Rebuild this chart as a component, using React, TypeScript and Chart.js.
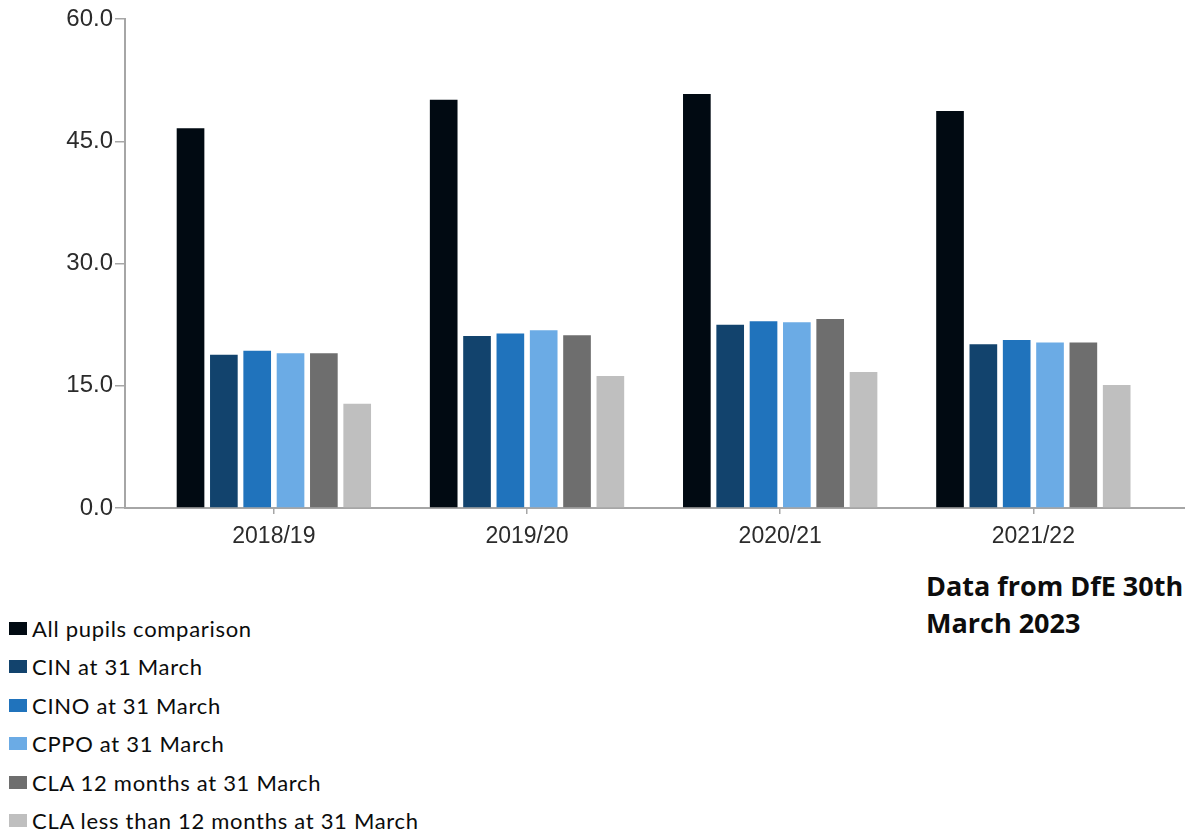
import React, { useEffect, useRef } from "react";
import { Chart, registerables } from "chart.js";

Chart.register(...registerables);

const categories = ["2018/19", "2019/20", "2020/21", "2021/22"];
const seriesNames = [
  "All pupils comparison",
  "CIN at 31 March",
  "CINO at 31 March",
  "CPPO at 31 March",
  "CLA 12 months at 31 March",
  "CLA less than 12 months at 31 March",
];
const allPupils = [46.6, 50.1, 50.8, 48.7];
const cin = [18.8, 21.1, 22.5, 20.1];
const cino = [19.3, 21.4, 22.9, 20.6];
const cppo = [19.0, 21.8, 22.8, 20.3];
const cla12 = [19.0, 21.2, 23.2, 20.3];
const claLess12 = [12.8, 16.2, 16.7, 15.1];
const seriesValues = [allPupils, cin, cino, cppo, cla12, claLess12];
const seriesColors = ["#010a12", "#12436d", "#2073bc", "#6babe5", "#6e6e6e", "#bfbfbf"];
const yTicks = [0, 15, 30, 45, 60];
const noteLines = ["Data from DfE 30th", "March 2023"];

export default function App() {
  const canvasRef = useRef<HTMLCanvasElement | null>(null);

  useEffect(() => {
    if (!canvasRef.current) return;
    const axisColor = "#a6a6a6";
    const chart = new Chart(canvasRef.current, {
      type: "bar",
      data: {
        datasets: seriesNames.map((name, s) => ({
          label: name,
          data: seriesValues[s].map((y, i) => ({ x: i, y })),
          backgroundColor: seriesColors[s],
          borderWidth: 0,
          barPercentage: 0.83,
          categoryPercentage: 0.79,
        })),
      },
      options: {
        animation: false,
        responsive: false,
        maintainAspectRatio: false,
        layout: { padding: { top: 19, left: 0, right: 0, bottom: 0 } },
        plugins: {
          legend: { display: false },
          tooltip: { enabled: false },
        },
        scales: {
          x: {
            type: "linear",
            min: -0.588,
            max: 3.599,
            offset: false,
            afterBuildTicks: (scale: any) => {
              scale.ticks = categories.map((_, i) => ({ value: i }));
            },
            afterFit: (scale: any) => {
              scale.height = 52;
            },
            ticks: {
              autoSkip: false,
              maxRotation: 0,
              padding: 9,
              color: "#2b2b2b",
              font: { family: "Liberation Sans", size: 23 },
              callback: (_v: any, index: number) => categories[index],
            },
            grid: {
              offset: false,
              drawOnChartArea: false,
              drawTicks: true,
              tickLength: 6,
              color: axisColor,
              lineWidth: 1.5,
            },
            border: { display: true, color: axisColor, width: 2 },
          },
          y: {
            type: "linear",
            min: 0,
            max: 60,
            afterBuildTicks: (scale: any) => {
              scale.ticks = yTicks.map((v) => ({ value: v }));
            },
            afterFit: (scale: any) => {
              scale.width = 125;
            },
            ticks: {
              padding: 2,
              color: "#2b2b2b",
              font: { family: "Liberation Sans", size: 24 },
              callback: (v: any) => Number(v).toFixed(1),
            },
            grid: {
              drawOnChartArea: false,
              drawTicks: true,
              tickLength: 10,
              color: axisColor,
              lineWidth: 1.5,
            },
            border: { display: true, color: axisColor, width: 2 },
          },
        },
      },
    });
    return () => chart.destroy();
  }, []);

  return (
    <div
      style={{
        position: "fixed",
        left: 0,
        top: 0,
        width: 1185,
        height: 833,
        overflow: "hidden",
        background: "#ffffff",
      }}
    >
      <canvas
        ref={canvasRef}
        width={1185}
        height={560}
        style={{ position: "absolute", left: 0, top: 0, width: 1185, height: 560 }}
      />
      <div style={{ position: "absolute", left: 9, top: 609 }}>
        {seriesNames.map((name, s) => (
          <div
            key={name}
            style={{ display: "flex", alignItems: "center", height: 38.5 }}
          >
            <span
              style={{
                display: "inline-block",
                width: 18,
                height: 13,
                background: seriesColors[s],
                marginRight: 5,
              }}
            />
            <span
              style={{
                fontFamily: "Lato, sans-serif",
                fontSize: 22,
                letterSpacing: "0.7px",
                color: "#0b0c0c",
                whiteSpace: "nowrap",
              }}
            >
              {name}
            </span>
          </div>
        ))}
      </div>
      <div
        style={{
          position: "absolute",
          left: 926,
          top: 567,
          fontFamily: "'Open Sans', sans-serif",
          fontWeight: 700,
          fontSize: 27,
          lineHeight: "37px",
          color: "#0d0d0d",
          whiteSpace: "nowrap",
        }}
      >
        {noteLines.map((l) => (
          <div key={l}>{l}</div>
        ))}
      </div>
    </div>
  );
}
